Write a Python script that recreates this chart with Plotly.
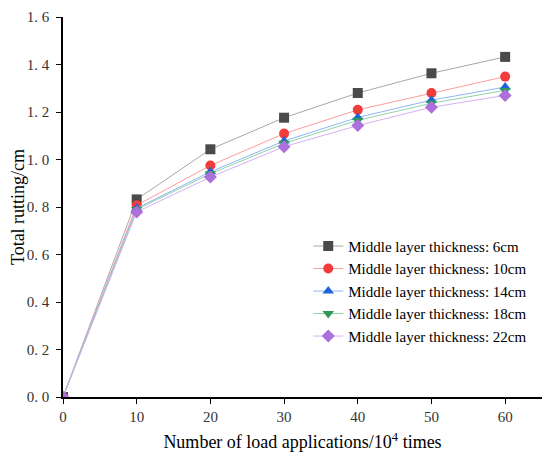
import plotly.graph_objects as go

# load applications (10^4 times)
x_vals = [0, 10, 20, 30, 40, 50, 60]

# total rutting (cm) per middle layer thickness
rut_6 = [0, 0.832, 1.043, 1.176, 1.280, 1.363, 1.432]
rut_10 = [0, 0.807, 0.975, 1.109, 1.209, 1.280, 1.349]
rut_14 = [0, 0.795, 0.948, 1.078, 1.177, 1.250, 1.305]
rut_18 = [0, 0.790, 0.940, 1.068, 1.165, 1.237, 1.291]
rut_22 = [0, 0.779, 0.926, 1.054, 1.143, 1.220, 1.270]

y_ticks = [0, 0.2, 0.4, 0.6, 0.8, 1.0, 1.2, 1.4, 1.6]
y_labels = ['0. 0', '0. 2', '0. 4', '0. 6', '0. 8', '1. 0', '1. 2', '1. 4', '1. 6']

names = ['Middle layer thickness: 6cm', 'Middle layer thickness: 10cm',
         'Middle layer thickness: 14cm', 'Middle layer thickness: 18cm',
         'Middle layer thickness: 22cm']

series = [rut_6, rut_10, rut_14, rut_18, rut_22]
symbols = ['square', 'circle', 'triangle-up', 'triangle-down', 'diamond']
marker_colors = ['#4a4a4a', '#f23b3b', '#1f63d6', '#2e9a58', '#ad6fdc']
line_colors = ['#a8a8a8', '#ff9c9c', '#8fb6f2', '#8fd2a8', '#d6b0f2']

fig = go.Figure()
for ys, nm, sym, mc, lc in zip(series, names, symbols, marker_colors, line_colors):
    fig.add_trace(go.Scatter(
        x=x_vals, y=ys, name=nm, mode='lines+markers',
        line=dict(color=lc, width=1),
        marker=dict(symbol=sym, color=mc, size=10, line=dict(width=0))
    ))

# page body has an 8px margin, so the figure is a bit smaller than the window
fig.update_layout(
    width=542,
    height=451,
    margin=dict(l=55, r=8, t=9, b=62),
    plot_bgcolor='white',
    paper_bgcolor='white',
    font=dict(family='Liberation Serif', size=15, color='black'),
    legend=dict(
        x=0.512, y=0.44, xanchor='left', yanchor='top',
        bgcolor='rgba(0,0,0,0)',
        font=dict(family='Liberation Serif', size=15),
        tracegroupgap=0, itemwidth=30
    )
)

fig.update_xaxes(
    range=[0, 65],
    tickvals=x_vals[:],
    showgrid=False, zeroline=False,
    showline=True, linecolor='black', linewidth=1.5,
    ticks='outside', ticklen=5, tickcolor='black',
    tickfont=dict(size=15, color='#333'),
    automargin=False,
    title=dict(text='Number of load applications/10<sup>4</sup> times',
               font=dict(size=18), standoff=12)
)

fig.update_yaxes(
    range=[0, 1.6],
    tickvals=y_ticks, ticktext=y_labels,
    showgrid=False, zeroline=False,
    showline=True, linecolor='black', linewidth=1.5,
    ticks='outside', ticklen=5, tickcolor='black',
    tickfont=dict(size=15, color='#333'),
    ticklabelstandoff=4, ticklabeloverflow='allow',
    automargin=False,
    title=dict(text='Total rutting/cm', font=dict(size=18), standoff=10)
)

fig.write_html("out.html")
